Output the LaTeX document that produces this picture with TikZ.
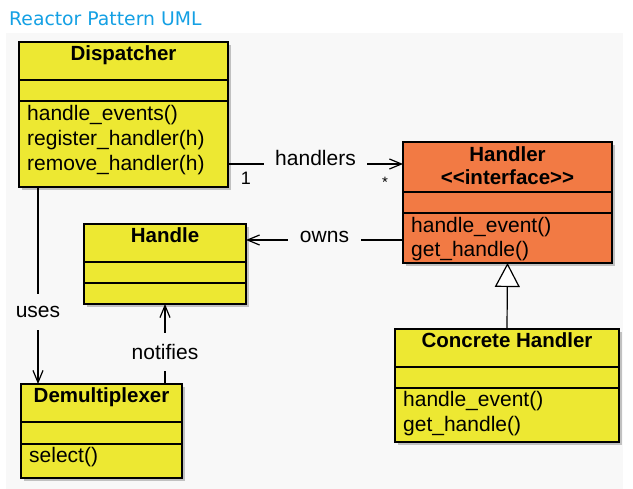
\documentclass[tikz,border=0pt]{standalone}
\usepackage{fontspec}
\setmainfont{Liberation Sans}
\newfontfamily\headfont{DejaVu Sans}
\usetikzlibrary{arrows.meta,shadows,calc}
\definecolor{classyellow}{RGB}{237,232,50}
\definecolor{ifaceorange}{RGB}{242,122,68}
\definecolor{panelgray}{RGB}{248,248,248}
\definecolor{headblue}{RGB}{20,160,228}
\tikzset{
  classbox/.style={draw=black, line width=1.6pt, inner sep=0pt, outer sep=0pt,
    anchor=north west,
    drop shadow={shadow xshift=3pt, shadow yshift=-3pt, fill=black!45, opacity=0.5}},
  divider/.style={line width=1.3pt},
  classname/.style={font=\bfseries\fontsize{20.5}{24}\selectfont, anchor=base, inner sep=0pt},
  method/.style={font=\fontsize{21}{25}\selectfont, anchor=base west, inner sep=0pt},
  hlabel/.style={fill=panelgray, font=\fontsize{21}{25}\selectfont, inner ysep=6pt},
  vlabel/.style={fill=panelgray, font=\fontsize{21}{25}\selectfont, inner xsep=2pt},
  assoc/.style={line width=1.2pt, -{Straight Barb[length=12pt, width=10pt]}},
  inherit/.style={line width=1.2pt, -{Triangle[open, length=24pt, width=25pt, fill=white]}}
}
\begin{document}
\begin{tikzpicture}[x=1pt,y=-1pt]
  \useasboundingbox (0,0) rectangle (633,489);
  \fill [panelgray] (6,33) rectangle (623,489);
  \node [anchor=base west, inner sep=0pt, text=headblue,
    font=\headfont\fontsize{18.8}{22}\selectfont] (diagramTitle) at (9,26) {Reactor Pattern UML};

  % classes
  \node [classbox, fill=classyellow, minimum width=209, minimum height=145] (dispatcher) at (19,42) {};
  \node [classbox, fill=ifaceorange, minimum width=209, minimum height=121] (handler) at (403,142) {};
  \node [classbox, fill=classyellow, minimum width=162, minimum height=80] (handle) at (84,224) {};
  \node [classbox, fill=classyellow, minimum width=161, minimum height=94] (demux) at (21,384) {};
  \node [classbox, fill=classyellow, minimum width=224, minimum height=113] (concrete) at (395,329) {};
  \foreach \cls/\a/\b in {dispatcher/38/59, handler/50/71, handle/38/59, demux/38/60, concrete/38/59} {
    \draw [divider] ($(\cls.north west)+(0,\a)$) -- ($(\cls.north east)+(0,\a)$);
    \draw [divider] ($(\cls.north west)+(0,\b)$) -- ($(\cls.north east)+(0,\b)$);
  }

  % names
  \node [classname] (dispName) at ($(dispatcher.north)+(0,19)$) {Dispatcher};
  \node [classname] (handlerName) at ($(handler.north)+(0,20)$) {Handler};
  \node [classname] (handlerStereo) at ($(handler.north)+(0,43)$) {<{}<interface>{}>};
  \node [classname] (handleName) at ($(handle.north)+(0,19)$) {Handle};
  \node [classname] (demuxName) at ($(demux.north)+(0,19)$) {Demultiplexer};
  \node [classname] (concreteName) at ($(concrete.north)+(0,19)$) {Concrete Handler};

  % operations
  \foreach \op [count=\i] in {handle\_events(), register\_handler(h), remove\_handler(h)}
    \node [method] (dispOp\i) at ($(dispatcher.north west)+(8,54+25*\i)$) {\op};
  \foreach \op [count=\i] in {handle\_event(), get\_handle()}
    \node [method] (handlerOp\i) at ($(handler.north west)+(8,67+24*\i)$) {\op};
  \foreach \op [count=\i] in {handle\_event(), get\_handle()}
    \node [method] (concreteOp\i) at ($(concrete.north west)+(8,53+25*\i)$) {\op};
  \node [method] (demuxOp1) at ($(demux.north west)+(8,79)$) {select()};

  % relations
  \coordinate (handlersY) at (0,164);
  \coordinate (ownsY) at (0,240);
  \coordinate (usesX) at (38,0);
  \coordinate (notifiesX) at (165,0);
  \draw [assoc] (dispatcher.east |- handlersY) -- node [hlabel, inner xsep=11pt, yshift=6pt] (handlersLabel) {handlers} (handler.west |- handlersY);
  \node [anchor=base, inner sep=0pt, font=\fontsize{18}{20}\selectfont] (multOne) at (246,185) {1};
  \node [anchor=base, inner sep=0pt, font=\fontsize{15}{18}\selectfont] (multMany) at (385,188) {*};
  \draw [assoc] (handler.west |- ownsY) -- node [hlabel, inner xsep=12pt, yshift=3pt] (ownsLabel) {owns} (handle.east |- ownsY);
  \draw [assoc] (dispatcher.south -| usesX) -- node [vlabel, pos=0.645, inner ysep=12pt, yshift=2pt] (usesLabel) {uses} (demux.north -| usesX);
  \draw [assoc] (demux.north -| notifiesX) -- node [vlabel, pos=0.4, inner ysep=11pt] (notifiesLabel) {notifies} (handle.south -| notifiesX);
  \draw [inherit] (concrete.north) -- (handler.south);
\end{tikzpicture}
\end{document}
